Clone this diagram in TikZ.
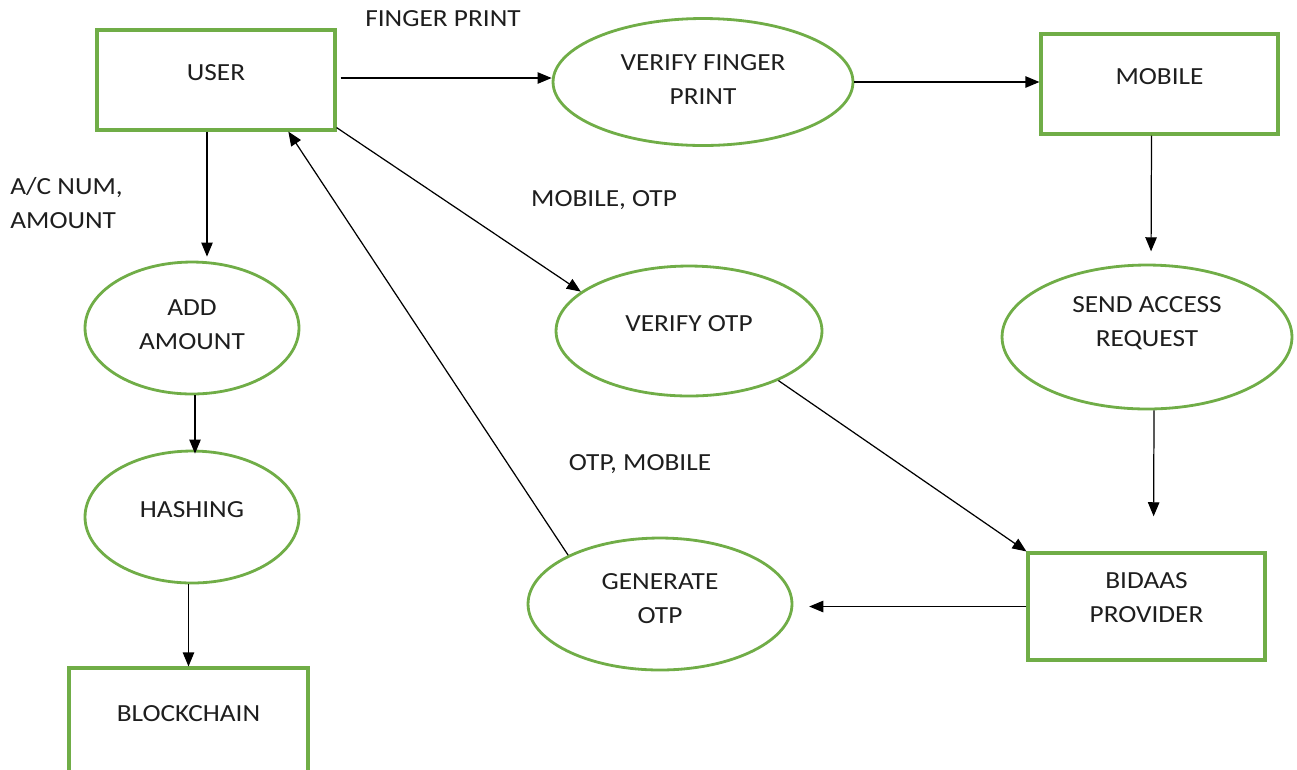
\documentclass[tikz,border=0pt]{standalone}
\usepackage{fontspec}
\setmainfont{Carlito}[FakeStretch=1.11]
\usetikzlibrary{arrows.meta,calc,shapes.geometric}
\definecolor{leaf}{HTML}{70AD47}
\definecolor{inkk}{HTML}{1E1E1E}
\tikzset{box/.style={draw=leaf,line width=1.8pt,rectangle,align=center,
  inner sep=0pt,text=inkk},
  proc/.style={draw=leaf,line width=1.6pt,ellipse,align=center,
  inner sep=0pt,text=inkk},
  oneline/.style={text height=0.33cm,text depth=0.33cm},
  lift/.style={text height=0.3cm+#1,text depth=0.3cm},
  arrow/.style={-{Triangle[length=8pt,width=6.5pt]},line width=0.7pt,draw=black},
  tag/.style={text=inkk,inner sep=0pt}}

\begin{document}
\begin{tikzpicture}[x=0.02cm,y=-0.02cm,font=\fontsize{14}{19.5}\selectfont]
\useasboundingbox (0,0) rectangle (1297,769);
% stores and actors
\node[box,oneline,minimum width=4.76cm,minimum height=2cm] (user) at (216,80) {USER};
\node[box,oneline,minimum width=4.74cm,minimum height=2cm] (mobile) at (1159.5,84) {MOBILE};
\node[box,oneline,minimum width=4.78cm,minimum height=2.14cm] (block) at (188.5,721.5) {BLOCKCHAIN};
\node[box,lift=0.636cm,minimum width=4.74cm,minimum height=2.14cm] (bidaas) at (1146.5,606.5) {BIDAAS\\PROVIDER};
% processes
\node[proc,lift=0.896cm,minimum width=6cm,minimum height=2.54cm] (vfp) at (703,82) {VERIFY FINGER\\PRINT};
\node[proc,lift=0.856cm,minimum width=4.28cm,minimum height=2.64cm] (add) at (192,328) {ADD\\AMOUNT};
\node[proc,oneline,minimum width=4.28cm,minimum height=2.64cm] (hash) at (192,517) {HASHING};
\node[proc,oneline,minimum width=5.32cm,minimum height=2.6cm] (votp) at (689,331) {VERIFY OTP};
\node[proc,lift=0.376cm,minimum width=5.8cm,minimum height=2.88cm] (send) at (1147,337) {SEND ACCESS\\REQUEST};
\node[proc,lift=0.776cm,minimum width=5.28cm,minimum height=2.64cm] (gen) at (660,604) {GENERATE\\OTP};
% flow labels
\node[tag] (fp) at (443,19) {FINGER PRINT};
\node[tag,anchor=west,align=left] (acnum) at (10,203) {A/C NUM,\\AMOUNT};
\node[tag] (mobotp) at (604,200) {MOBILE, OTP};
\node[tag] (otpmob) at (640,464) {OTP, MOBILE};
% flows
\draw[arrow] ($(user.east)+(4,-2)$) -- ($(vfp.west)+(0,-4)$);
\draw[arrow] (vfp.east) -- (vfp.east -| mobile.west);
\draw[arrow] ($(user.south)+(-9,0)$) -- ($(add.north)+(15,-4)$);
\draw[arrow] ($(add.south)+(3,0)$) -- ($(hash.north)+(3,4)$);
\draw[arrow] (hash.south -| block.north) -- (block.north);
\draw[arrow] ($(user.south east)+(0,-4)$) -- (votp.160);
\draw[arrow] (votp.-29) -- (bidaas.north west);
\draw[arrow,shorten >=7pt] ($(mobile.south)+(-8,0)$) -- ($(send.north)+(4,0)$);
\draw[arrow,shorten >=20pt] ($(send.south)+(7,0)$) -- ($(bidaas.north)+(7,0)$);
\draw[arrow,shorten >=9pt] (bidaas.west) -- (bidaas.west -| gen.east);
\draw[arrow] (gen.152) -- ($(user.south)!0.6!(user.south east)$);
\end{tikzpicture}
\end{document}
